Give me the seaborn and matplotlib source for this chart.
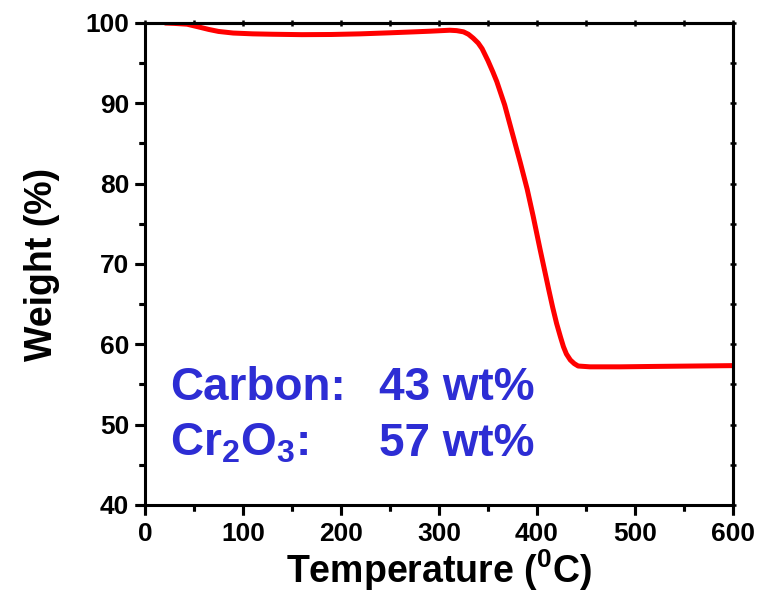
import matplotlib
matplotlib.use("Agg")
import matplotlib.pyplot as plt
import seaborn as sns
import pandas as pd
from matplotlib.ticker import MultipleLocator

temperature = [20, 30, 43, 55, 65, 75, 90, 110, 130, 160, 190, 220, 250, 275, 291,
               311, 318, 325, 330, 335, 340, 344, 350, 355, 359, 367, 375, 383, 390,
               396, 403, 412, 416, 420, 424, 427, 430, 434, 438, 442, 454, 485, 520,
               560, 600]
weight = [100.0, 99.95, 99.85, 99.5, 99.2, 98.95, 98.75, 98.65, 98.6, 98.55, 98.57,
          98.65, 98.78, 98.9, 98.98, 99.1, 99.05, 98.9, 98.6, 98.1, 97.5, 96.8, 95.3,
          93.9, 92.7, 89.8, 86.2, 82.6, 79.3, 76.0, 71.9, 66.8, 64.6, 62.6, 60.9, 59.7,
          58.8, 58.05, 57.6, 57.3, 57.2, 57.2, 57.25, 57.3, 57.35]

x_ticks = [0, 100, 200, 300, 400, 500, 600]
y_ticks = [40, 50, 60, 70, 80, 90, 100]
annotations = [("Carbon:", "43 wt%"), (r"Cr$_2$O$_3$:", "57 wt%")]

sns.set_theme(style="ticks")
plt.rcParams.update({
    'font.family': ['Liberation Sans', 'DejaVu Sans'],
    'font.weight': 'bold',
    'mathtext.fontset': 'custom',
    'mathtext.rm': 'Liberation Sans:bold',
    'mathtext.bf': 'Liberation Sans:bold',
    'mathtext.it': 'Liberation Sans:bold',
    'mathtext.default': 'bf',
    'xtick.bottom': True, 'ytick.left': True,
    'xtick.direction': 'out', 'ytick.direction': 'out',
    'xtick.major.size': 7.5, 'ytick.major.size': 7.5,
    'xtick.minor.size': 4, 'ytick.minor.size': 4,
    'xtick.major.width': 2.2, 'ytick.major.width': 2.2,
    'xtick.minor.width': 2.2, 'ytick.minor.width': 2.2,
    'xtick.color': 'black', 'ytick.color': 'black',
})

fig = plt.figure(figsize=(7.61, 5.96), dpi=100)
ax = fig.add_axes([145/761, 91/596, 588/761, 482/596])

df = pd.DataFrame({"T": temperature, "W": weight})
sns.lineplot(data=df, x="T", y="W", ax=ax, color="#ff0000", linewidth=3.6, sort=False)
for ln in ax.get_lines():
    ln.set_solid_joinstyle('round')
    ln.set_solid_capstyle('butt')

ax.set_xlim(0, 600)
ax.set_ylim(40, 100)
ax.set_xticks(x_ticks)
ax.set_yticks(y_ticks)
ax.xaxis.set_minor_locator(MultipleLocator(50))
ax.yaxis.set_minor_locator(MultipleLocator(5))

for s in ax.spines.values():
    s.set_color("black")
    s.set_linewidth(2.2)

ax.tick_params(axis='x', which='major', labelsize=19, pad=5, labelcolor='black')
ax.tick_params(axis='y', which='major', labelsize=19, pad=4, labelcolor='black')

# short ticks on the top and right spines
axt = ax.secondary_xaxis('top')
axt.set_xticks(x_ticks)
axt.xaxis.set_minor_locator(MultipleLocator(50))
axt.tick_params(axis='x', which='both', direction='inout', length=4, width=1.8,
                labeltop=False, top=True, bottom=False)
axt.spines['top'].set_linewidth(2.2)
axr = ax.secondary_yaxis('right')
axr.set_yticks(y_ticks)
axr.yaxis.set_minor_locator(MultipleLocator(5))
axr.tick_params(axis='y', which='both', direction='inout', length=4, width=1.8,
                labelright=False, right=True, left=False)
axr.spines['right'].set_linewidth(2.2)

# outward tick marks on bottom and left, placed at the axis' own tick locations
fig.canvas.draw()
ax_h_px = ax.get_window_extent().height
ax_w_px = ax.get_window_extent().width
maj_px, min_px = 10.0, 6.0
x_minor = [v for v in ax.xaxis.get_minorticklocs() if 0 <= v <= 600]
y_minor = [v for v in ax.yaxis.get_minorticklocs() if 40 <= v <= 100]
ax.vlines(x_ticks, -maj_px / ax_h_px, 0, transform=ax.get_xaxis_transform(),
          colors='black', linewidth=2.2, clip_on=False, zorder=5)
ax.vlines(x_minor, -min_px / ax_h_px, 0, transform=ax.get_xaxis_transform(),
          colors='black', linewidth=2.2, clip_on=False, zorder=5)
ax.hlines(y_ticks, -maj_px / ax_w_px, 0, transform=ax.get_yaxis_transform(),
          colors='black', linewidth=2.2, clip_on=False, zorder=5)
ax.hlines(y_minor, -min_px / ax_w_px, 0, transform=ax.get_yaxis_transform(),
          colors='black', linewidth=2.2, clip_on=False, zorder=5)
ax.set_xlim(0, 600)
ax.set_ylim(40, 100)

ax.set_xlabel(r"Temperature ($^{0}$C)", fontsize=27, fontweight='bold', color='black', labelpad=1)
ax.set_ylabel("Weight (%)", fontsize=27, fontweight='bold', color='black', labelpad=18)

blue = "#2d2dd4"
ys = [53.1, 46.1]
for (name, val), yy in zip(annotations, ys):
    ax.text(26, yy, name, fontsize=33, fontweight='bold', color=blue, va='baseline', ha='left')
    ax.text(239, yy, val, fontsize=33, fontweight='bold', color=blue, va='baseline', ha='left')

fig.savefig("out.png", dpi=100)
